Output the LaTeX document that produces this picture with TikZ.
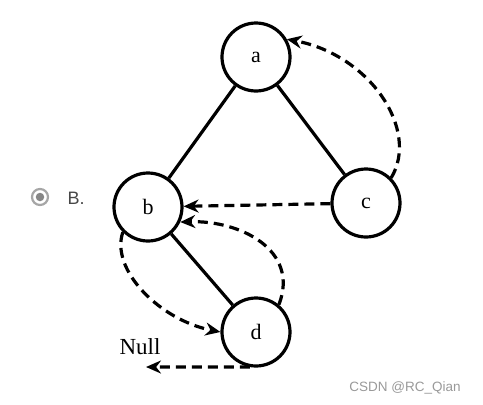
\documentclass[tikz,border=0pt]{standalone}
\usepackage{fontspec}
\setmainfont{Liberation Serif}
\newfontfamily\uifont{Liberation Sans}
\usetikzlibrary{arrows.meta}
\begin{document}
\begin{tikzpicture}[x=1pt,y=-1pt,
  vert/.style={circle,draw,line width=3.2pt,minimum size=68pt,inner sep=0pt,font=\fontsize{22}{22}\selectfont},
  tree/.style={line width=3.2pt},
  thr/.style={line width=3.2pt,dash pattern=on 10pt off 6pt,-{Stealth[length=15pt,width=13pt]}}]
\useasboundingbox (0,0) rectangle (483,405);
\node[vert] (a) at (256,57) {a};
\node[vert] (b) at (148,207) {b};
\node[vert] (c) at (366,203) {c};
\node[vert] (d) at (256,332) {d};
\node[font=\fontsize{23}{23}\selectfont] (null) at (140,347) {Null};
\coordinate (nullend) at (146,367);
\draw[tree] (a) -- (b);
\draw[tree] (a) -- (c);
\draw[tree] (b) -- (d);
\draw[thr] (c.45) .. controls (420,130) and (370,55) .. (a.30);
\draw[thr] (c) -- (b);
\draw[thr] (d.50) .. controls (300,250) and (240,220) .. (b.-25);
\draw[thr] (b.-135) .. controls (110,270) and (160,320) .. (d.180);
\draw[thr] (d.-100) -- (nullend);
\node[circle,draw=gray!70,line width=2.2pt,minimum size=16pt,inner sep=0pt] (radio) at (40,197) {};
\node[circle,fill=gray!95,minimum size=8.5pt,inner sep=0pt] (dot) at (radio) {};
\node[font=\uifont\fontsize{18}{18}\selectfont,text=black!72,anchor=west] (opt) at (64,198) {B.};
\node[font=\uifont\fontsize{13.5}{13.5}\selectfont,text=gray!80] (wm) at (405,388) {CSDN @RC\_Qian};
\end{tikzpicture}
\end{document}
